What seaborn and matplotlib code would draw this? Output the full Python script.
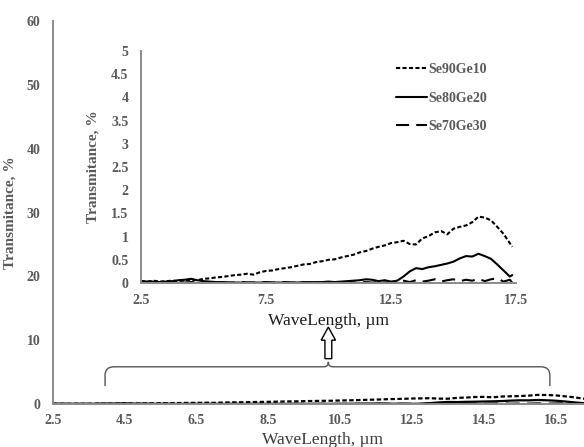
import numpy as np
import pandas as pd
import matplotlib
matplotlib.use("Agg")
import matplotlib.pyplot as plt
import seaborn as sns
from matplotlib.path import Path
from matplotlib.patches import PathPatch, FancyArrow
from matplotlib.lines import Line2D

# ---------------- data ----------------
wavelength = [2.5, 2.75, 3.0, 3.25, 3.5, 3.75, 4.0, 4.25, 4.5, 4.75, 5.0, 5.25, 5.5, 5.75,
              6.0, 6.25, 6.5, 6.75, 7.0, 7.25, 7.5, 7.75, 8.0, 8.25, 8.5, 8.75, 9.0, 9.25,
              9.5, 9.75, 10.0, 10.25, 10.5, 10.75, 11.0, 11.25, 11.5, 11.75, 12.0, 12.25,
              12.5, 12.75, 13.0, 13.25, 13.5, 13.75, 14.0, 14.25, 14.5, 14.75, 15.0, 15.25,
              15.5, 15.75, 16.0, 16.25, 16.5, 16.75, 17.0, 17.25, 17.35]

se90ge10 = [0.04, 0.03, 0.05, 0.03, 0.04, 0.05, 0.04, 0.06, 0.07, 0.06, 0.09, 0.10, 0.12, 0.13,
            0.15, 0.17, 0.18, 0.20, 0.18, 0.23, 0.26, 0.27, 0.30, 0.32, 0.34, 0.37, 0.40, 0.41,
            0.45, 0.47, 0.50, 0.51, 0.55, 0.58, 0.61, 0.66, 0.69, 0.74, 0.78, 0.81,
            0.86, 0.88, 0.91, 0.84, 0.83, 0.96, 1.01, 1.09, 1.12, 1.05, 1.17, 1.21,
            1.24, 1.31, 1.43, 1.41, 1.35, 1.21, 1.06, 0.86, 0.78]

se80ge20 = [0.04, 0.03, 0.03, 0.02, 0.03, 0.04, 0.06, 0.07, 0.09, 0.06, 0.04, 0.03, 0.02, 0.02,
            0.01, 0.01, 0.01, 0.01, 0.01, 0.01, 0.01, 0.01, 0.01, 0.01, 0.01, 0.01, 0.02, 0.01,
            0.02, 0.02, 0.03, 0.02, 0.03, 0.04, 0.05, 0.06, 0.08, 0.07, 0.04, 0.06,
            0.03, 0.05, 0.14, 0.25, 0.32, 0.30, 0.34, 0.36, 0.39, 0.42, 0.46, 0.53,
            0.58, 0.57, 0.63, 0.58, 0.52, 0.40, 0.27, 0.14, 0.17]

se70ge30 = [0.01, 0.01, 0.02, 0.01, 0.01, 0.02, 0.01, 0.01, 0.02, 0.01, 0.01, 0.01, 0.02, 0.01,
            0.01, 0.01, 0.02, 0.01, 0.01, 0.01, 0.02, 0.01, 0.01, 0.02, 0.01, 0.01, 0.01, 0.02,
            0.01, 0.01, 0.02, 0.01, 0.01, 0.02, 0.01, 0.01, 0.02, 0.01, 0.02, 0.01,
            0.02, 0.01, 0.05, 0.02, 0.06, 0.03, 0.05, 0.08, 0.03, 0.06, 0.08, 0.04,
            0.07, 0.05, 0.09, 0.04, 0.08, 0.10, 0.03, 0.07, 0.01]

samples = ["Se90Ge10", "Se80Ge20", "Se70Ge30"]
main_xticks = [2.5, 4.5, 6.5, 8.5, 10.5, 12.5, 14.5, 16.5]
main_yticks = [0, 10, 20, 30, 40, 50, 60]
inset_xticks = [2.5, 7.5, 12.5, 17.5]
inset_yticks = [0, 0.5, 1, 1.5, 2, 2.5, 3, 3.5, 4, 4.5, 5]

df = pd.concat([
    pd.DataFrame({"wavelength": wavelength, "transmittance": vals, "sample": name})
    for name, vals in zip(samples, [se90ge10, se80ge20, se70ge30])
], ignore_index=True)

# ---------------- style ----------------
sns.set_style("white")
plt.rcParams["font.family"] = ["Liberation Serif", "DejaVu Serif"]
GRAY = "#595959"
AXGRAY = "#8a8a8a"
dash_map = {"Se90Ge10": (2, 1.1), "Se80Ge20": "", "Se70Ge30": (6.3, 3.4)}

W, H = 584, 447
fig = plt.figure(figsize=(W / 100, H / 100), dpi=100)


def fx(px):
    return px / W


def fy(py):
    return 1 - py / H


# main axes: x 2.5 at px 53, 35.9 px/unit; y 0 at 404, 60 at 21
ax = fig.add_axes([fx(53), fy(404), 15 * 35.9 / W, (404 - 21) / H])
# inset axes: x 2.5 at px 141, 25 px/unit; y 0 at 283, 5 at 51
axi = fig.add_axes([fx(141), fy(283), 15 * 25 / W, (283 - 51) / H])
axi.set_facecolor("white")

for a, lw in ((ax, 1.6), (axi, 1.5)):
    sns.lineplot(data=df, x="wavelength", y="transmittance", style="sample",
                 dashes=dash_map, color="black", linewidth=lw, estimator=None,
                 sort=False, legend=False, ax=a)
    for s in ("top", "right"):
        a.spines[s].set_visible(False)
    for s in ("left", "bottom"):
        a.spines[s].set_color(AXGRAY)
        a.spines[s].set_linewidth(1.4)
    a.tick_params(length=0)

# main axes formatting
ax.set_xlim(2.5, 17.5)
ax.set_ylim(0, 60)
ax.set_xticks(main_xticks)
ax.set_xticklabels([str(t) for t in main_xticks])
ax.set_yticks(main_yticks)
ax.set_yticklabels([str(t) for t in main_yticks])
ax.tick_params(axis="x", pad=7, labelsize=10, labelcolor=GRAY)
ax.tick_params(axis="y", pad=9, labelsize=10, labelcolor=GRAY)
for lab in ax.get_xticklabels() + ax.get_yticklabels():
    lab.set_fontweight("bold")
ax.set_xlabel("WaveLength, µm", fontsize=12.5, color="#3a3a3a")
ax.xaxis.set_label_coords(0.5, -0.072)
ax.set_ylabel("Transmitance, %", fontsize=11, color=GRAY, fontweight="bold")
ax.yaxis.set_label_coords(-0.068, 0.5)

# inset formatting
axi.set_xlim(2.5, 17.5)
axi.set_ylim(0, 5)
axi.set_xticks(inset_xticks)
axi.set_xticklabels([str(t) for t in inset_xticks])
axi.set_yticks(inset_yticks)
axi.set_yticklabels([f"{t:g}" for t in inset_yticks])
axi.tick_params(axis="x", pad=8, labelsize=10, labelcolor=GRAY)
axi.tick_params(axis="y", pad=9, labelsize=10, labelcolor=GRAY)
for lab in axi.get_xticklabels() + axi.get_yticklabels():
    lab.set_fontweight("bold")
axi.set_xlabel("WaveLength, µm", fontsize=12.5, color="#1a1a1a")
axi.xaxis.set_label_coords(0.5, -0.13)
axi.set_ylabel("Transmitance, %", fontsize=11, color=GRAY, fontweight="bold")
axi.yaxis.set_label_coords(-0.11, 0.5)

# legend in inset
handles = [Line2D([], [], color="black", linewidth=1.5, dashes=dash_map["Se90Ge10"]),
           Line2D([], [], color="black", linewidth=1.5, linestyle="-"),
           Line2D([], [], color="black", linewidth=1.5, dashes=dash_map["Se70Ge30"])]
leg = axi.legend(handles, samples, loc="upper left",
                 bbox_to_anchor=(fx(396), fy(63)), bbox_transform=fig.transFigure,
                 frameon=False, fontsize=10, handlelength=2.2, handletextpad=0.1,
                 labelspacing=1.12, borderpad=0, borderaxespad=0)
for t in leg.get_texts():
    t.set_color(GRAY)
    t.set_fontweight("bold")

# brace (main data coords)
xl, xm, xr = 3.95, 10.17, 16.34
yb, yh, yt = 2.8, 5.83, 6.6
rx, ry = 0.25, 1.3
verts = [(xl, yb), (xl, yh - ry), (xl, yh), (xl + rx, yh), (xm - 0.12, yh),
         (xm, yh), (xm, yt), (xm, yh), (xm + 0.12, yh), (xr - rx, yh),
         (xr, yh), (xr, yh - ry), (xr, yb)]
codes = [Path.MOVETO, Path.LINETO, Path.CURVE3, Path.CURVE3, Path.LINETO,
         Path.CURVE3, Path.CURVE3, Path.CURVE3, Path.CURVE3, Path.LINETO,
         Path.CURVE3, Path.CURVE3, Path.LINETO]
ax.add_patch(PathPatch(Path(verts, codes), facecolor="none", edgecolor="#555555",
                       linewidth=1.0, clip_on=False))

# hollow arrow
ax.add_patch(FancyArrow(xm, 7.1, 0, 4.95, width=0.19, head_width=0.40,
                        head_length=2.05, length_includes_head=True,
                        facecolor="white", edgecolor="black", linewidth=1.0,
                        clip_on=False))

fig.savefig("out.png", dpi=100)
